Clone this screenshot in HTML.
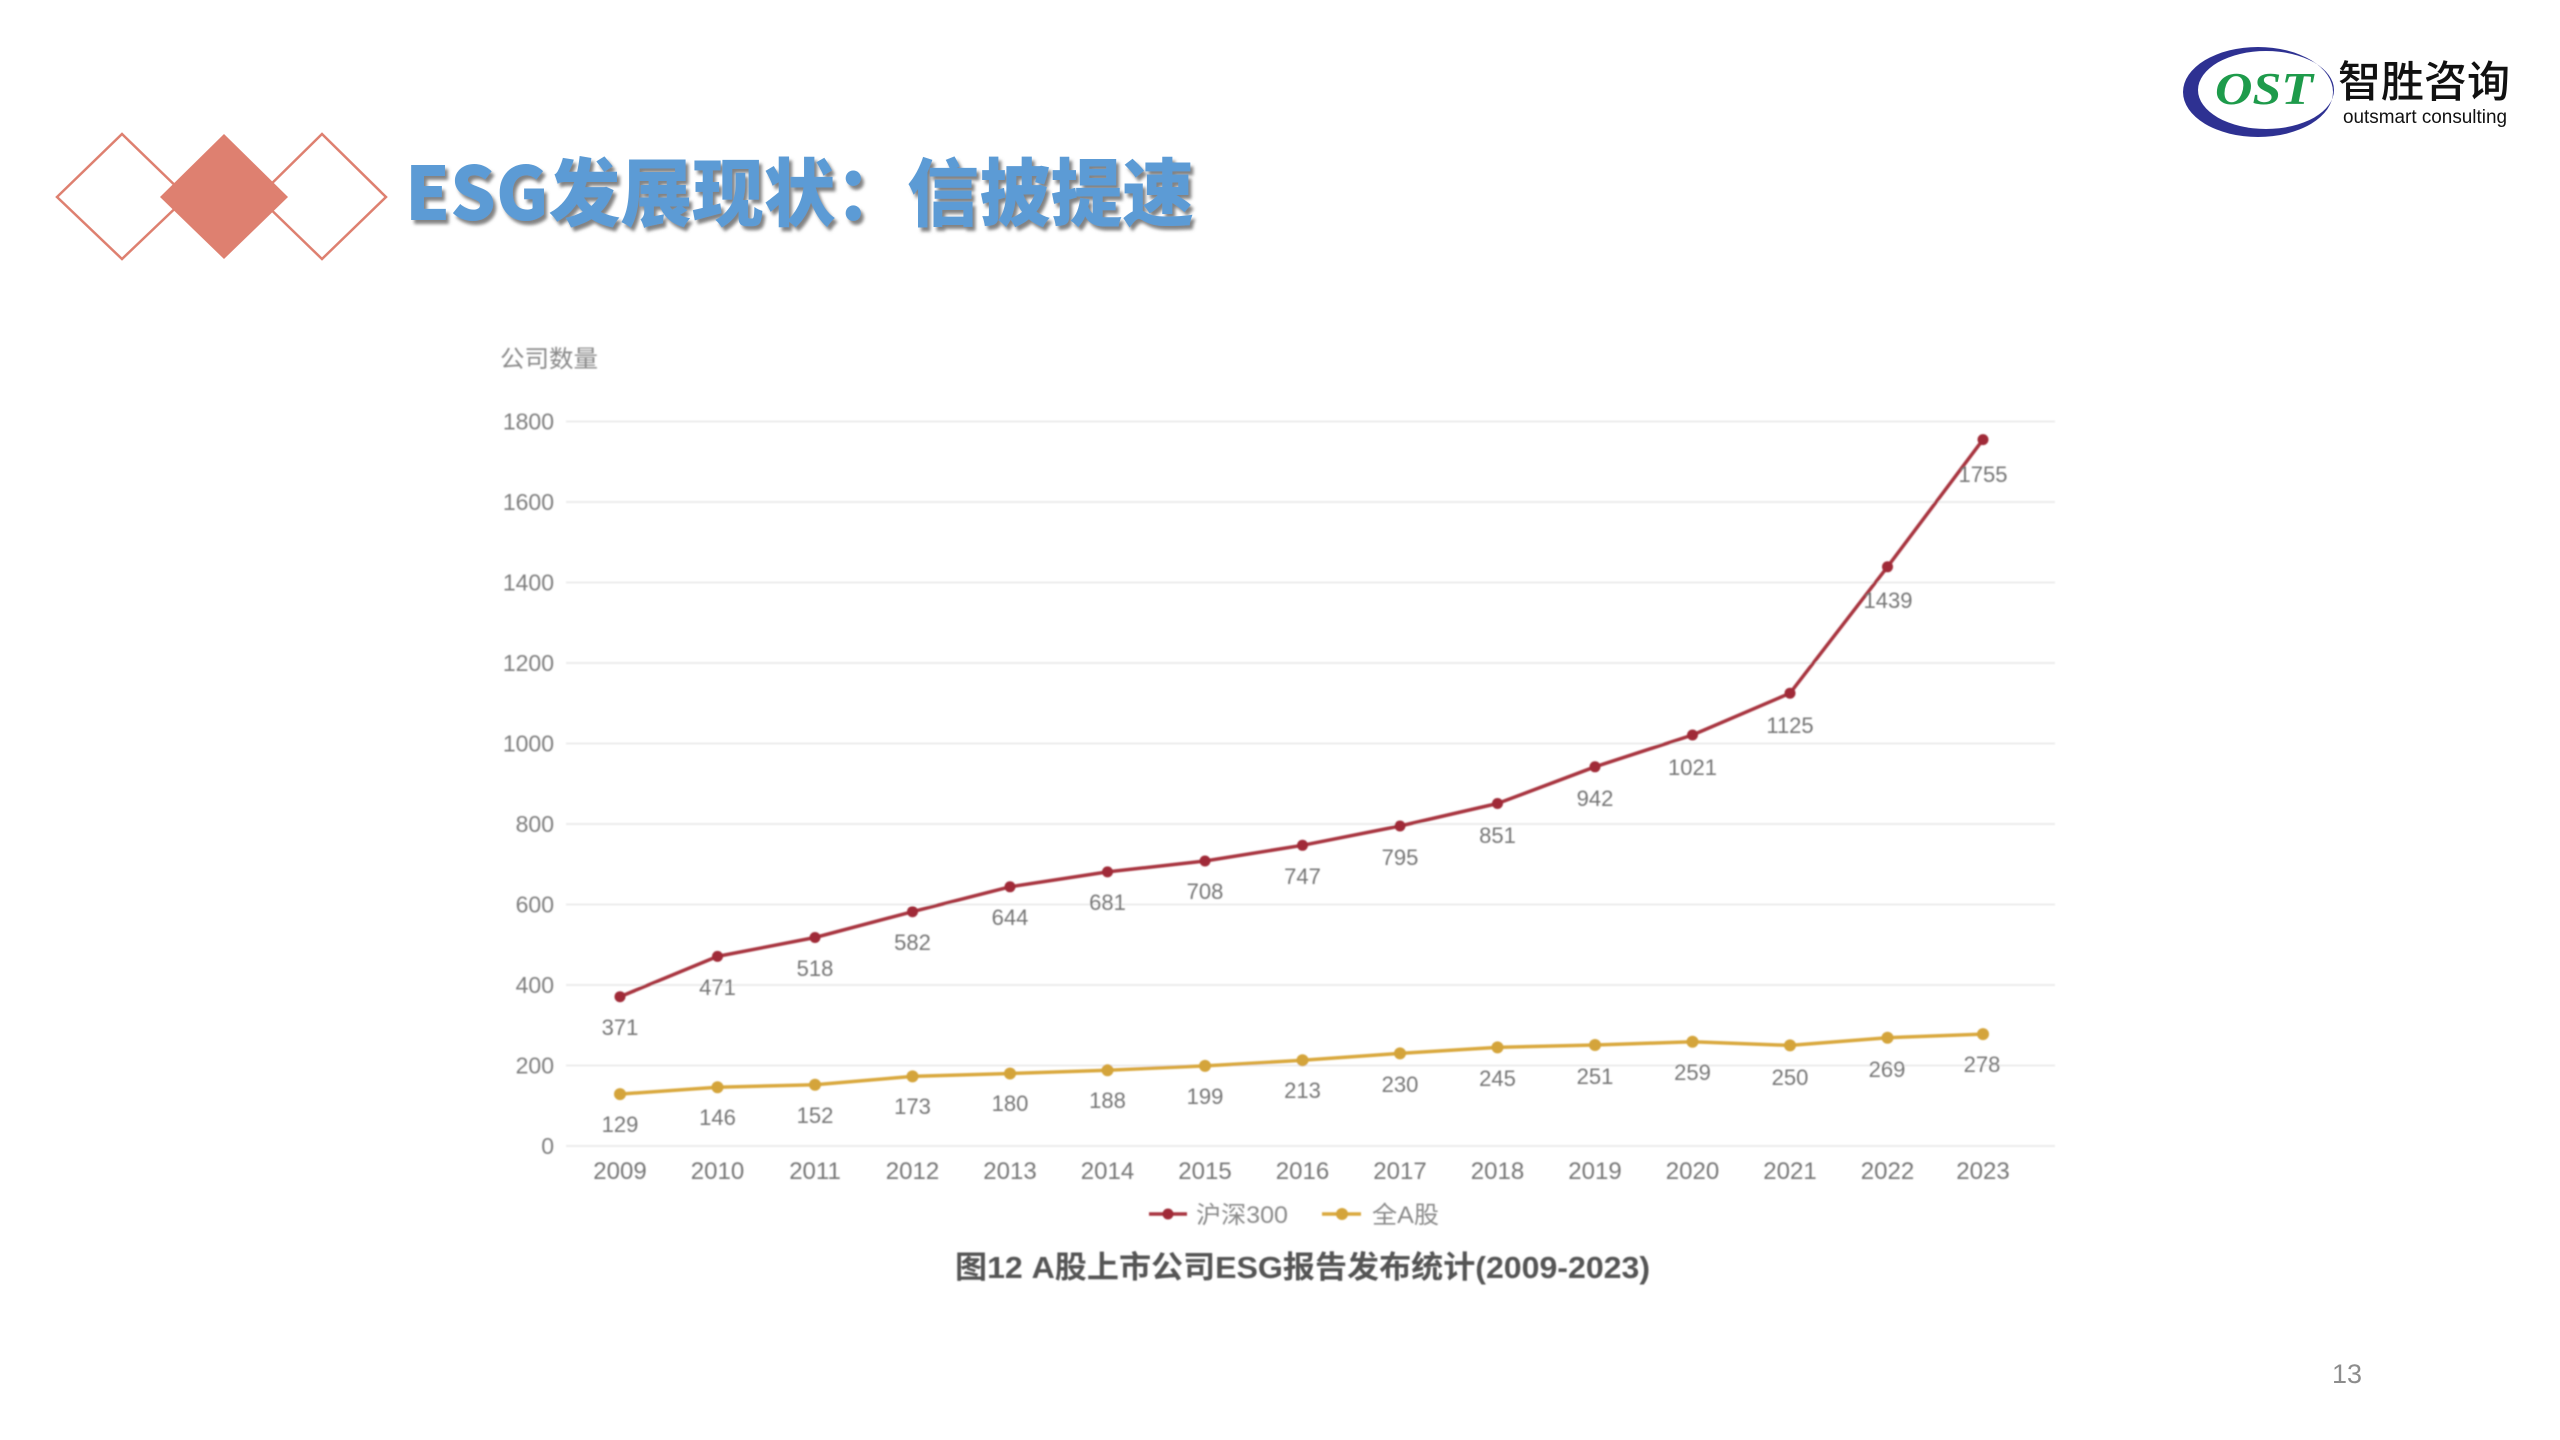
<!DOCTYPE html>
<html lang="zh">
<head>
<meta charset="utf-8">
<style>
  html,body{margin:0;padding:0;background:#fff;}
  body{width:2560px;height:1440px;overflow:hidden;}
  svg{display:block;}
</style>
</head>
<body>
<svg width="2560" height="1440" viewBox="0 0 2560 1440" xmlns="http://www.w3.org/2000/svg">
  <defs>
    <filter id="soft" x="-5%" y="-5%" width="110%" height="110%">
      <feGaussianBlur stdDeviation="0.7"/>
    </filter>
    <filter id="tshadow" x="-5%" y="-20%" width="110%" height="140%">
      <feGaussianBlur in="SourceAlpha" stdDeviation="1.6" result="b"/>
      <feOffset in="b" dx="3" dy="4" result="o"/>
      <feFlood flood-color="#6d6d6d" flood-opacity="0.85"/>
      <feComposite in2="o" operator="in" result="s"/>
      <feMerge><feMergeNode in="s"/><feMergeNode in="SourceGraphic"/></feMerge>
    </filter>
  </defs>
  <rect width="2560" height="1440" fill="#ffffff"/>

  <!-- Diamonds -->
  <g stroke="#de8070" stroke-width="2.5" fill="none">
    <polygon points="57,197 122,134 187,197 122,259"/>
    <polygon points="258,197 322,134 386,197 322,259"/>
  </g>
  <polygon points="160,197 224,134 288,197 224,259" fill="#de8070"/>

  <!-- Title -->
  <text x="405" y="220" font-family="'Noto Sans CJK SC','WenQuanYi Zen Hei',sans-serif" font-weight="900" font-size="74" fill="#5b9bd5" filter="url(#tshadow)" textLength="789" lengthAdjust="spacingAndGlyphs">ESG发展现状：信披提速</text>

  <!-- Logo -->
  <path fill-rule="evenodd" fill="#2e3192" d="M2183,92 a75,45 0 1,0 150,0 a75,45 0 1,0 -150,0 Z M2198,90 a68,39 0 1,0 136,0 a68,39 0 1,0 -136,0 Z"/>
  <text x="2215" y="104" font-family="'Liberation Serif',serif" font-weight="bold" font-style="italic" font-size="46" fill="#1e9b4b" textLength="98" lengthAdjust="spacingAndGlyphs">OST</text>
  <text x="2338" y="97" font-family="'Noto Sans CJK SC',sans-serif" font-weight="500" font-size="43" fill="#111" textLength="172" lengthAdjust="spacingAndGlyphs">智胜咨询</text>
  <text x="2343" y="123" font-family="'Liberation Sans',sans-serif" font-size="19" fill="#111" textLength="164" lengthAdjust="spacingAndGlyphs">outsmart consulting</text>

  <!-- Chart -->
  <g filter="url(#soft)">
    <g stroke="#ececec" stroke-width="2">
      <line x1="566" y1="1146" x2="2055" y2="1146"/>
      <line x1="566" y1="1065.5" x2="2055" y2="1065.5"/>
      <line x1="566" y1="985" x2="2055" y2="985"/>
      <line x1="566" y1="904.5" x2="2055" y2="904.5"/>
      <line x1="566" y1="824" x2="2055" y2="824"/>
      <line x1="566" y1="743.5" x2="2055" y2="743.5"/>
      <line x1="566" y1="663" x2="2055" y2="663"/>
      <line x1="566" y1="582.5" x2="2055" y2="582.5"/>
      <line x1="566" y1="502" x2="2055" y2="502"/>
      <line x1="566" y1="421.5" x2="2055" y2="421.5"/>
    </g>

    <text x="500" y="367" font-family="'Liberation Sans','Noto Sans CJK SC',sans-serif" font-size="24" fill="#8a8a8a" textLength="98" lengthAdjust="spacingAndGlyphs">公司数量</text>

    <g font-family="'Liberation Sans',sans-serif" font-size="23" fill="#7f7f7f" text-anchor="end">
      <text x="554" y="1154">0</text>
      <text x="554" y="1073.5">200</text>
      <text x="554" y="993">400</text>
      <text x="554" y="912.5">600</text>
      <text x="554" y="832">800</text>
      <text x="554" y="751.5">1000</text>
      <text x="554" y="671">1200</text>
      <text x="554" y="590.5">1400</text>
      <text x="554" y="510">1600</text>
      <text x="554" y="429.5">1800</text>
    </g>

    <g font-family="'Liberation Sans',sans-serif" font-size="24" fill="#777" text-anchor="middle">
      <text x="620" y="1179">2009</text>
      <text x="717.5" y="1179">2010</text>
      <text x="815" y="1179">2011</text>
      <text x="912.5" y="1179">2012</text>
      <text x="1010" y="1179">2013</text>
      <text x="1107.5" y="1179">2014</text>
      <text x="1205" y="1179">2015</text>
      <text x="1302.5" y="1179">2016</text>
      <text x="1400" y="1179">2017</text>
      <text x="1497.5" y="1179">2018</text>
      <text x="1595" y="1179">2019</text>
      <text x="1692.5" y="1179">2020</text>
      <text x="1790" y="1179">2021</text>
      <text x="1887.5" y="1179">2022</text>
      <text x="1983" y="1179">2023</text>
    </g>

    <polyline fill="none" stroke="#d9a83e" stroke-width="3.5" stroke-linejoin="round"
      points="620,1094.1 717.5,1087.2 815,1084.8 912.5,1076.4 1010,1073.5 1107.5,1070.3 1205,1065.9 1302.5,1060.3 1400,1053.4 1497.5,1047.4 1595,1045 1692.5,1041.8 1790,1045.4 1887.5,1037.7 1983,1034.1"/>
    <g fill="#d4a43a">
      <circle cx="620" cy="1094.1" r="6"/>
      <circle cx="717.5" cy="1087.2" r="6"/>
      <circle cx="815" cy="1084.8" r="6"/>
      <circle cx="912.5" cy="1076.4" r="6"/>
      <circle cx="1010" cy="1073.5" r="6"/>
      <circle cx="1107.5" cy="1070.3" r="6"/>
      <circle cx="1205" cy="1065.9" r="6"/>
      <circle cx="1302.5" cy="1060.3" r="6"/>
      <circle cx="1400" cy="1053.4" r="6"/>
      <circle cx="1497.5" cy="1047.4" r="6"/>
      <circle cx="1595" cy="1045" r="6"/>
      <circle cx="1692.5" cy="1041.8" r="6"/>
      <circle cx="1790" cy="1045.4" r="6"/>
      <circle cx="1887.5" cy="1037.7" r="6"/>
      <circle cx="1983" cy="1034.1" r="6"/>
    </g>

    <polyline fill="none" stroke="#a8343f" stroke-width="3.5" stroke-linejoin="round"
      points="620,996.7 717.5,956.4 815,937.5 912.5,911.7 1010,886.8 1107.5,871.9 1205,861 1302.5,845.3 1400,826 1497.5,803.5 1595,766.8 1692.5,735 1790,693.2 1887.5,566.8 1983,439.6"/>
    <g fill="#a02c38">
      <circle cx="620" cy="996.7" r="5.5"/>
      <circle cx="717.5" cy="956.4" r="5.5"/>
      <circle cx="815" cy="937.5" r="5.5"/>
      <circle cx="912.5" cy="911.7" r="5.5"/>
      <circle cx="1010" cy="886.8" r="5.5"/>
      <circle cx="1107.5" cy="871.9" r="5.5"/>
      <circle cx="1205" cy="861" r="5.5"/>
      <circle cx="1302.5" cy="845.3" r="5.5"/>
      <circle cx="1400" cy="826" r="5.5"/>
      <circle cx="1497.5" cy="803.5" r="5.5"/>
      <circle cx="1595" cy="766.8" r="5.5"/>
      <circle cx="1692.5" cy="735" r="5.5"/>
      <circle cx="1790" cy="693.2" r="5.5"/>
      <circle cx="1887.5" cy="566.8" r="5.5"/>
      <circle cx="1983" cy="439.6" r="5.5"/>
    </g>

    <g font-family="'Liberation Sans',sans-serif" font-size="22" fill="#767676" text-anchor="middle">
      <text x="620" y="1035">371</text>
      <text x="717.5" y="995">471</text>
      <text x="815" y="976">518</text>
      <text x="912.5" y="950">582</text>
      <text x="1010" y="925">644</text>
      <text x="1107.5" y="910">681</text>
      <text x="1205" y="899">708</text>
      <text x="1302.5" y="884">747</text>
      <text x="1400" y="865">795</text>
      <text x="1497.5" y="843">851</text>
      <text x="1595" y="806">942</text>
      <text x="1692.5" y="775">1021</text>
      <text x="1790" y="733">1125</text>
      <text x="1888" y="608">1439</text>
      <text x="1983" y="482">1755</text>
    </g>

    <g font-family="'Liberation Sans',sans-serif" font-size="22" fill="#767676" text-anchor="middle">
      <text x="620" y="1132">129</text>
      <text x="717.5" y="1125">146</text>
      <text x="815" y="1123">152</text>
      <text x="912.5" y="1114">173</text>
      <text x="1010" y="1111">180</text>
      <text x="1107.5" y="1108">188</text>
      <text x="1205" y="1104">199</text>
      <text x="1302.5" y="1098">213</text>
      <text x="1400" y="1092">230</text>
      <text x="1497.5" y="1086">245</text>
      <text x="1595" y="1084">251</text>
      <text x="1692.5" y="1080">259</text>
      <text x="1790" y="1085">250</text>
      <text x="1887" y="1077">269</text>
      <text x="1982" y="1072">278</text>
    </g>

    <!-- legend -->
    <line x1="1149" y1="1214" x2="1187" y2="1214" stroke="#a8343f" stroke-width="3.5"/>
    <circle cx="1168" cy="1214" r="5.5" fill="#a02c38"/>
    <text x="1196" y="1223" font-family="'Liberation Sans','Noto Sans CJK SC',sans-serif" font-size="24" fill="#8a8a8a" textLength="92" lengthAdjust="spacingAndGlyphs">沪深300</text>
    <line x1="1322" y1="1214" x2="1361" y2="1214" stroke="#d9a83e" stroke-width="3.5"/>
    <circle cx="1342" cy="1214" r="6" fill="#d4a43a"/>
    <text x="1372" y="1223" font-family="'Liberation Sans','Noto Sans CJK SC',sans-serif" font-size="24" fill="#8a8a8a" textLength="67" lengthAdjust="spacingAndGlyphs">全A股</text>

    <text x="955" y="1278" font-family="'Liberation Sans','Noto Sans CJK SC',sans-serif" font-weight="bold" font-size="31" fill="#555555" textLength="695" lengthAdjust="spacingAndGlyphs">图12 A股上市公司ESG报告发布统计(2009-2023)</text>
  </g>

  <text x="2347" y="1383" text-anchor="middle" font-family="'Liberation Sans',sans-serif" font-size="27" fill="#8c8c8c">13</text>
</svg>
</body>
</html>
